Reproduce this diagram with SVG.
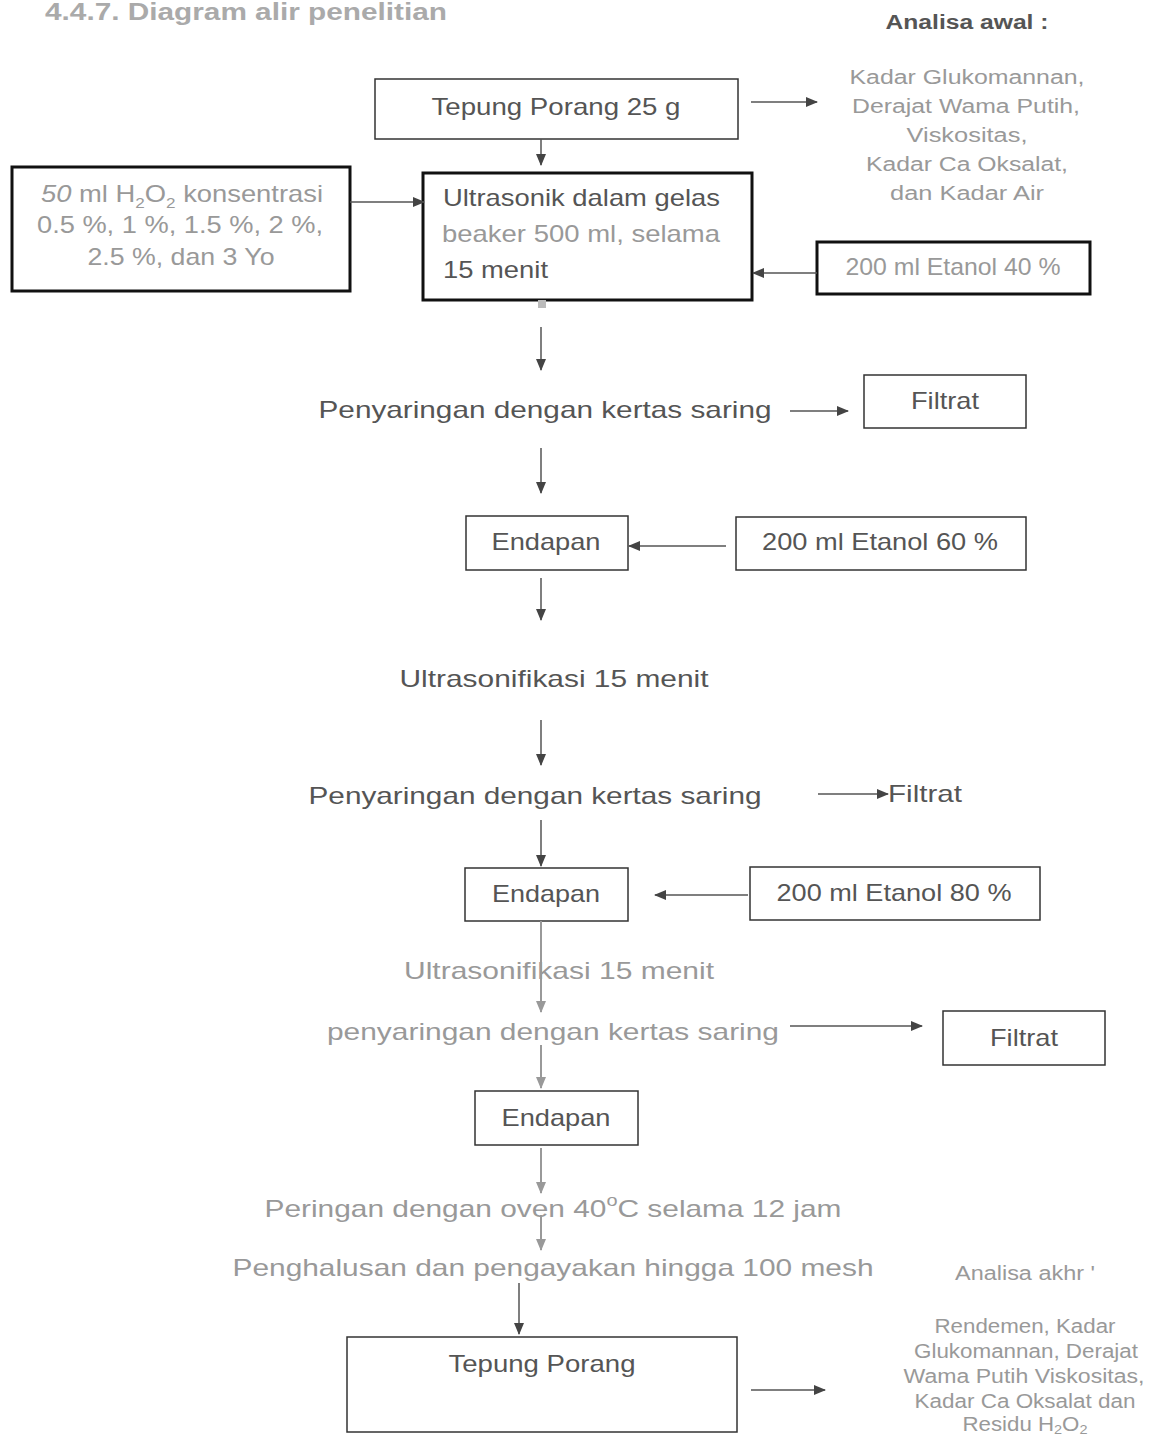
<svg xmlns="http://www.w3.org/2000/svg" width="1152" height="1439" viewBox="0 0 1152 1439">
<style>
text{font-family:"Liberation Sans",Arial,sans-serif;}
.t{font-size:24px;fill:#555;}
.g{font-size:24px;fill:#999;}
.s{font-size:20px;fill:#999;}
.box{fill:none;stroke:#333;stroke-width:1.5;}
.bx{fill:none;stroke:#111;stroke-width:3;}
.c{fill:none;stroke:#555;stroke-width:1.5;marker-end:url(#ah);}
.cg{fill:none;stroke:#999;stroke-width:2;marker-end:url(#ahg);}
</style>
<defs>
<marker id="ah" markerWidth="12" markerHeight="10" refX="11" refY="5" orient="auto" markerUnits="userSpaceOnUse"><path d="M0,0 L12,5 L0,10 Z" fill="#444"/></marker>
<marker id="ahg" markerWidth="12" markerHeight="10" refX="11" refY="5" orient="auto" markerUnits="userSpaceOnUse"><path d="M0,0 L12,5 L0,10 Z" fill="#999"/></marker>
</defs>
<rect width="1152" height="1439" fill="#fff"/>
<text x="45" y="20" font-size="24" font-weight="bold" fill="#aaa" textLength="402" lengthAdjust="spacingAndGlyphs">4.4.7. Diagram alir penelitian</text>

<g id="analisa-awal">
<text x="967" y="29" text-anchor="middle" font-size="20" font-weight="bold" fill="#555" textLength="163" lengthAdjust="spacingAndGlyphs">Analisa awal :</text>
<text x="967" y="84" text-anchor="middle" class="s" font-size="22" textLength="235" lengthAdjust="spacingAndGlyphs">Kadar Glukomannan,</text>
<text x="966" y="113" text-anchor="middle" class="s" font-size="22" textLength="228" lengthAdjust="spacingAndGlyphs">Derajat Wama Putih,</text>
<text x="967" y="142" text-anchor="middle" class="s" font-size="22" textLength="121" lengthAdjust="spacingAndGlyphs">Viskositas,</text>
<text x="967" y="171" text-anchor="middle" class="s" font-size="22" textLength="202" lengthAdjust="spacingAndGlyphs">Kadar Ca Oksalat,</text>
<text x="967" y="200" text-anchor="middle" class="s" font-size="22" textLength="154" lengthAdjust="spacingAndGlyphs">dan Kadar Air</text>
</g>

<g id="tepung-porang-25">
<rect x="375" y="79" width="363" height="60" class="box"/>
<text x="556" y="115" text-anchor="middle" class="t" textLength="249" lengthAdjust="spacingAndGlyphs">Tepung Porang 25 g</text>
</g>

<g id="h2o2">
<rect x="12" y="167" width="338" height="124" class="bx"/>
<text x="182" y="202" text-anchor="middle" class="g" textLength="282" lengthAdjust="spacingAndGlyphs"><tspan font-style="italic">50</tspan> ml H<tspan font-size="15" dy="6">2</tspan><tspan dy="-6">O</tspan><tspan font-size="15" dy="6">2</tspan><tspan dy="-6"> konsentrasi</tspan></text>
<text x="180" y="233" text-anchor="middle" class="g" textLength="286" lengthAdjust="spacingAndGlyphs">0.5 %, 1 %, 1.5 %, 2 %,</text>
<text x="181" y="265" text-anchor="middle" class="g" textLength="187" lengthAdjust="spacingAndGlyphs">2.5 %, dan 3 Yo</text>
</g>

<g id="ultrasonik">
<rect x="423" y="173" width="329" height="127" class="bx"/>
<text x="443" y="206" class="t" textLength="277" lengthAdjust="spacingAndGlyphs">Ultrasonik dalam gelas</text>
<text x="442" y="242" class="g" textLength="278" lengthAdjust="spacingAndGlyphs">beaker 500 ml, selama</text>
<text x="443" y="278" class="t" textLength="105" lengthAdjust="spacingAndGlyphs">15 menit</text>
</g>

<g id="etanol-40">
<rect x="817" y="242" width="273" height="52" class="bx" stroke-width="2"/>
<text x="953" y="275" text-anchor="middle" class="g" font-size="22" textLength="215" lengthAdjust="spacingAndGlyphs">200 ml Etanol 40 %</text>
</g>

<g id="penyaringan-1">
<text x="545" y="418" text-anchor="middle" class="t" font-size="26" textLength="453" lengthAdjust="spacingAndGlyphs">Penyaringan dengan kertas saring</text>
</g>
<g id="filtrat-1">
<rect x="864" y="375" width="162" height="53" class="box"/>
<text x="945" y="409" text-anchor="middle" class="t" textLength="68" lengthAdjust="spacingAndGlyphs">Filtrat</text>
</g>

<g id="endapan-1">
<rect x="466" y="516" width="162" height="54" class="box"/>
<text x="546" y="550" text-anchor="middle" class="t" textLength="109" lengthAdjust="spacingAndGlyphs">Endapan</text>
</g>
<g id="etanol-60">
<rect x="736" y="517" width="290" height="53" class="box"/>
<text x="880" y="550" text-anchor="middle" class="t" textLength="236" lengthAdjust="spacingAndGlyphs">200 ml Etanol 60 %</text>
</g>

<g id="ultrasonifikasi-1">
<text x="554" y="687" text-anchor="middle" class="t" font-size="26" textLength="309" lengthAdjust="spacingAndGlyphs">Ultrasonifikasi 15 menit</text>
</g>

<g id="penyaringan-2">
<text x="535" y="804" text-anchor="middle" class="t" font-size="26" textLength="453" lengthAdjust="spacingAndGlyphs">Penyaringan dengan kertas saring</text>
</g>
<g id="filtrat-2">
<text x="888" y="802" class="t" textLength="74" lengthAdjust="spacingAndGlyphs">Filtrat</text>
</g>

<g id="endapan-2">
<rect x="465" y="868" width="163" height="53" class="box"/>
<text x="546" y="902" text-anchor="middle" class="t" textLength="108" lengthAdjust="spacingAndGlyphs">Endapan</text>
</g>
<g id="etanol-80">
<rect x="750" y="867" width="290" height="53" class="box"/>
<text x="894" y="901" text-anchor="middle" class="t" textLength="235" lengthAdjust="spacingAndGlyphs">200 ml Etanol 80 %</text>
</g>

<g id="ultrasonifikasi-2">
<text x="559" y="979" text-anchor="middle" class="g" font-size="26" textLength="310" lengthAdjust="spacingAndGlyphs">Ultrasonifikasi 15 menit</text>
</g>

<g id="penyaringan-3">
<text x="553" y="1040" text-anchor="middle" class="g" font-size="26" textLength="452" lengthAdjust="spacingAndGlyphs">penyaringan dengan kertas saring</text>
</g>
<g id="filtrat-3">
<rect x="943" y="1011" width="162" height="54" class="box"/>
<text x="1024" y="1046" text-anchor="middle" class="t" textLength="68" lengthAdjust="spacingAndGlyphs">Filtrat</text>
</g>

<g id="endapan-3">
<rect x="475" y="1091" width="163" height="54" class="box"/>
<text x="556" y="1126" text-anchor="middle" class="t" textLength="109" lengthAdjust="spacingAndGlyphs">Endapan</text>
</g>

<g id="pengeringan">
<text x="553" y="1217" text-anchor="middle" class="g" font-size="28" textLength="577" lengthAdjust="spacingAndGlyphs">Peringan dengan oven 40<tspan font-size="16" dy="-11">o</tspan><tspan dy="11">C selama 12 jam</tspan></text>
</g>

<g id="penghalusan">
<text x="553" y="1276" text-anchor="middle" class="g" font-size="28" textLength="641" lengthAdjust="spacingAndGlyphs">Penghalusan dan pengayakan hingga 100 mesh</text>
</g>

<g id="tepung-porang">
<rect x="347" y="1337" width="390" height="95" class="box"/>
<text x="542" y="1372" text-anchor="middle" class="t" textLength="187" lengthAdjust="spacingAndGlyphs">Tepung Porang</text>
</g>

<g id="analisa-akhir">
<text x="1025" y="1280" text-anchor="middle" class="s" textLength="140" lengthAdjust="spacingAndGlyphs">Analisa akhr '</text>
<text x="1025" y="1333" text-anchor="middle" class="s" textLength="181" lengthAdjust="spacingAndGlyphs">Rendemen, Kadar</text>
<text x="1026" y="1358" text-anchor="middle" class="s" textLength="224" lengthAdjust="spacingAndGlyphs">Glukomannan, Derajat</text>
<text x="1024" y="1383" text-anchor="middle" class="s" textLength="241" lengthAdjust="spacingAndGlyphs">Wama Putih  Viskositas,</text>
<text x="1025" y="1408" text-anchor="middle" class="s" textLength="221" lengthAdjust="spacingAndGlyphs">Kadar Ca Oksalat dan</text>
<text x="1025" y="1431" text-anchor="middle" class="s" textLength="125" lengthAdjust="spacingAndGlyphs">Residu H<tspan font-size="13" dy="3">2</tspan><tspan dy="-3">O</tspan><tspan font-size="13" dy="3">2</tspan></text>
</g>

<g id="connectors">
<path d="M751,102 H817" class="c"/>
<path d="M541,139 V165" class="c"/>
<path d="M350,202 H424" class="c"/>
<path d="M817,273 H753" class="c"/>
<rect x="538" y="300" width="8" height="8" fill="#bbb"/>
<path d="M541,327 V370" class="c"/>
<path d="M790,411 H848" class="c"/>
<path d="M541,448 V493" class="c"/>
<path d="M726,546 H629" class="c"/>
<path d="M541,578 V620" class="c"/>
<path d="M541,720 V765" class="c"/>
<path d="M818,794 H888" class="c"/>
<path d="M541,820 V866" class="c"/>
<path d="M748,895 H655" class="c"/>
<path d="M541,921 V1012" class="cg"/>
<path d="M790,1026 H922" class="c"/>
<path d="M541,1045 V1088" class="cg"/>
<path d="M541,1148 V1193" class="cg"/>
<path d="M541,1215 V1250" class="cg"/>
<path d="M519,1283 V1334" class="c"/>
<path d="M751,1390 H825" class="c"/>
</g>
</svg>
